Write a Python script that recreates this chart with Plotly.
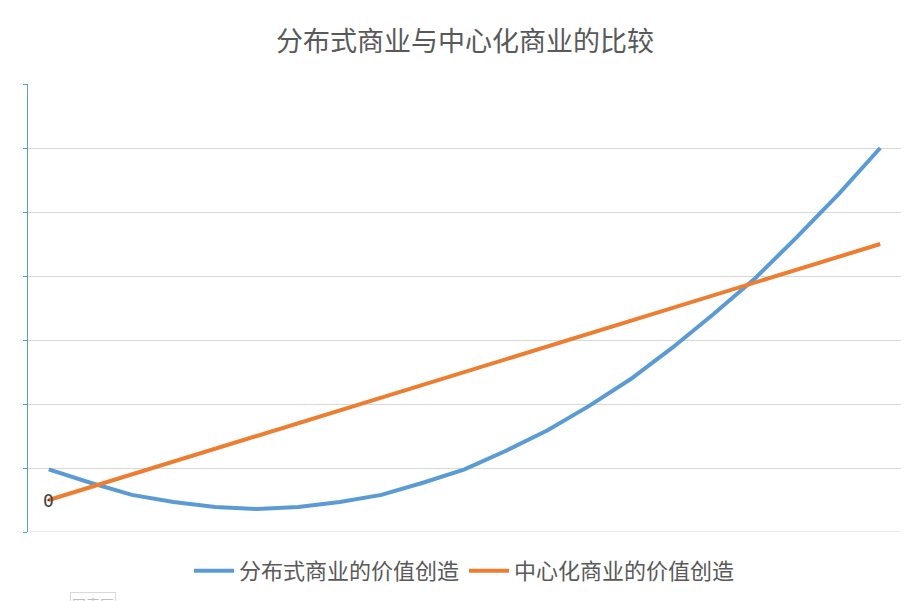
import plotly.graph_objs as go

# category index along the x axis (no labels shown in the reference)
steps = list(range(21))
distributed = [0.98, 0.77, 0.58, 0.47, 0.39, 0.36, 0.39, 0.47, 0.58, 0.77, 0.98,
               1.27, 1.59, 1.97, 2.39, 2.88, 3.41, 3.97, 4.61, 5.28, 6.0]
centralized = [0.5, 0.7, 0.9, 1.1, 1.3, 1.5, 1.7, 1.9, 2.1, 2.3, 2.5,
               2.7, 2.9, 3.1, 3.3, 3.5, 3.7, 3.9, 4.1, 4.3, 4.5]

fig = go.Figure()
fig.add_trace(go.Scatter(x=steps, y=distributed, mode="lines", name="分布式商业的价值创造",
                         line=dict(color="#5b9bd5", width=4)))
fig.add_trace(go.Scatter(x=steps, y=centralized, mode="lines", name="中心化商业的价值创造",
                         line=dict(color="#ed7d31", width=4)))

fig.update_layout(
    width=914, height=601,
    margin=dict(l=20, r=21, t=76, b=77, autoexpand=False),
    paper_bgcolor="white", plot_bgcolor="white",
    font=dict(family="Noto Sans CJK SC", color="#595959"),
    title=dict(text="分布式商业与中心化商业的比较", x=0.5, y=0.945, xanchor="center",
               yanchor="middle", font=dict(size=27, color="#595959")),
    xaxis=dict(range=[-0.5, 20.5], showticklabels=False, showgrid=False, zeroline=False),
    yaxis=dict(range=[0, 7], dtick=1, showticklabels=False, gridcolor="#d9d9d9",
               zeroline=False, showline=True, linecolor="#5b9bd5", linewidth=1,
               ticks="outside", ticklen=4, tickcolor="#5b9bd5"),
    legend=dict(orientation="h", x=0.5, xanchor="center", y=-0.04, yanchor="top",
                font=dict(size=22, color="#595959"), itemwidth=40),
    showlegend=True,
)
fig.add_shape(type="line", xref="paper", yref="y", x0=0, x1=1, y0=0, y1=0,
              line=dict(color="#d9d9d9", width=1))
fig.add_annotation(x=0, y=0.5, xref="x", yref="y", text="0", showarrow=False,
                   font=dict(family="DejaVu Sans Mono", size=18, color="#404040"))
fig.add_annotation(x=0.048, y=-0.135, xref="paper", yref="paper", text="图表区", showarrow=False,
                   font=dict(size=14, color="#bfbfbf"), bordercolor="#d9d9d9", borderwidth=1,
                   bgcolor="white", xanchor="left", yanchor="top")

fig.write_html("out.html")
